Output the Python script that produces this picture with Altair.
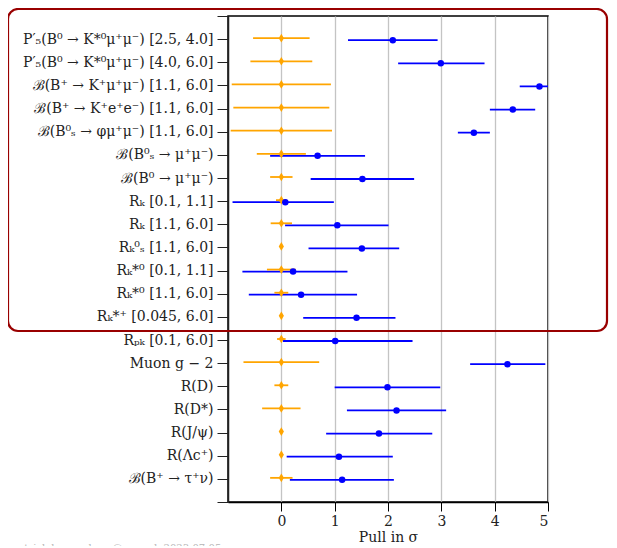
import json
import altair as alt
import pandas as pd

labels = [
    "P′₅(B⁰ → K*⁰μ⁺μ⁻) [2.5, 4.0]",
    "P′₅(B⁰ → K*⁰μ⁺μ⁻) [4.0, 6.0]",
    "ℬ(B⁺ → K⁺μ⁺μ⁻) [1.1, 6.0]",
    "ℬ(B⁺ → K⁺e⁺e⁻) [1.1, 6.0]",
    "ℬ(B⁰ₛ → φμ⁺μ⁻) [1.1, 6.0]",
    "ℬ(B⁰ₛ → μ⁺μ⁻)",
    "ℬ(B⁰ → μ⁺μ⁻)",
    "Rₖ [0.1, 1.1]",
    "Rₖ [1.1, 6.0]",
    "Rₖ⁰ₛ [1.1, 6.0]",
    "Rₖ*⁰ [0.1, 1.1]",
    "Rₖ*⁰ [1.1, 6.0]",
    "Rₖ*⁺ [0.045, 6.0]",
    "Rₚₖ [0.1, 6.0]",
    "Muon g − 2",
    "R(D)",
    "R(D*)",
    "R(J/ψ)",
    "R(Λc⁺)",
    "ℬ(B⁺ → τ⁺ν)",
]
meas = [2.09, 2.99, 4.84, 4.34, 3.61, 0.68, 1.52, 0.075, 1.05, 1.51,
        0.22, 0.37, 1.41, 1.01, 4.24, 1.99, 2.16, 1.83, 1.08, 1.14]
meas_err_lo = [0.84, 0.80, 0.37, 0.43, 0.30, 0.89, 0.97, 0.99, 0.98, 1.00,
               0.95, 0.98, 1.00, 0.98, 0.70, 0.99, 0.93, 0.99, 0.98, 0.98]
meas_err_hi = [0.84, 0.82, 0.37, 0.42, 0.30, 0.89, 0.97, 0.91, 0.96, 0.70,
               1.02, 1.05, 0.73, 1.45, 0.71, 0.99, 0.93, 1.00, 1.01, 0.97]
sm_center = [0.0] * 20
sm_err = [0.53, 0.58, 0.93, 0.90, 0.95, 0.46, 0.21, 0.10, 0.20, 0.02,
          0.27, 0.13, 0.02, 0.08, 0.71, 0.13, 0.36, 0.02, 0.02, 0.21]
x_ticks = [0, 1, 2, 3, 4, 5]
watermark = "patrick.koppenburg@cern.ch 2023-07-05"

df = pd.DataFrame({
    "row": list(range(1, len(labels) + 1)),
    "label": labels,
    "meas": meas,
    "mlo": [m - e for m, e in zip(meas, meas_err_lo)],
    "mhi": [m + e for m, e in zip(meas, meas_err_hi)],
    "sm": sm_center,
    "slo": [c - e for c, e in zip(sm_center, sm_err)],
    "shi": [c + e for c, e in zip(sm_center, sm_err)],
})

label_arr = json.dumps([""] + labels + [""], ensure_ascii=False)
SERIF = "DejaVu Serif, serif"

xscale = alt.Scale(domain=[-1, 5], nice=False, zero=False)
yscale = alt.Scale(domain=[0, len(labels) + 1], reverse=True, nice=False, zero=False)

xaxis = alt.Axis(values=x_ticks, grid=True, gridColor="#c4c4c4", gridWidth=1.3,
                 tickSize=9, tickColor="black", domainColor="black", domainWidth=1.5,
                 labelFont=SERIF, labelFontSize=14, labelColor="#222", labelPadding=3,
                 title="Pull in σ", titleFont=SERIF, titleFontSize=14,
                 titleFontWeight="normal", titleColor="#222", titlePadding=2,
                 format="d")
yaxis = alt.Axis(values=list(range(0, len(labels) + 2)), grid=False,
                 labelExpr=f"{label_arr}[datum.value]",
                 labelOverlap=False, labelLimit=400, labelBound=False,
                 tickSize=11, tickColor="#222", domainColor="#222", domainWidth=1.5,
                 labelFont=SERIF, labelFontSize=14, labelColor="#222", labelPadding=4,
                 title=None)

base = alt.Chart(df)
ORANGE = "#FFA500"
BLUE = "#0000FF"

X = lambda f: alt.X(f, scale=xscale, axis=xaxis)
Y = alt.Y("row:Q", scale=yscale, axis=yaxis)

blue_bars = base.mark_rule(color=BLUE, strokeWidth=1.8, clip=True).encode(
    x=X("mlo:Q"), x2="mhi:Q", y=Y, yOffset=alt.value(1),
)
orange_bars = base.mark_rule(color=ORANGE, strokeWidth=1.8, clip=True).encode(
    x=X("slo:Q"), x2="shi:Q", y=Y, yOffset=alt.value(-1),
)
orange_pts = base.mark_point(shape="M0,-1L0.6,0L0,1L-0.6,0Z", filled=True, color=ORANGE,
                             size=75, opacity=1, clip=True).encode(
    x=X("sm:Q"), y=Y, yOffset=alt.value(-1),
)
blue_pts = base.mark_circle(color=BLUE, size=42, opacity=1, clip=True).encode(
    x=X("meas:Q"), y=Y, yOffset=alt.value(1),
)

note_df = pd.DataFrame({"t": [watermark]})
note = alt.Chart(note_df).mark_text(font=SERIF, fontSize=10, color="#b5b5b5",
                                    align="left", baseline="alphabetic").encode(
    text="t:N", x=alt.value(-216), y=alt.value(535),
)
box = alt.Chart(note_df).mark_rect(filled=False, stroke="#990000", strokeWidth=2.2,
                                   cornerRadius=10).encode(
    x=alt.value(-220), x2=alt.value(379), y=alt.value(-7), y2=alt.value(315),
)

chart = alt.layer(blue_bars, orange_bars, orange_pts, blue_pts, note, box).properties(
    width=320, height=486,
    autosize=alt.AutoSizeParams(type="none"),
    padding={"left": 220, "top": 8, "right": 61, "bottom": 44},
).configure_view(stroke="black", strokeWidth=1.5).configure_axisY(labelOverlap=False)

chart.save("out.html", embed_options={"renderer": "svg", "actions": False})
